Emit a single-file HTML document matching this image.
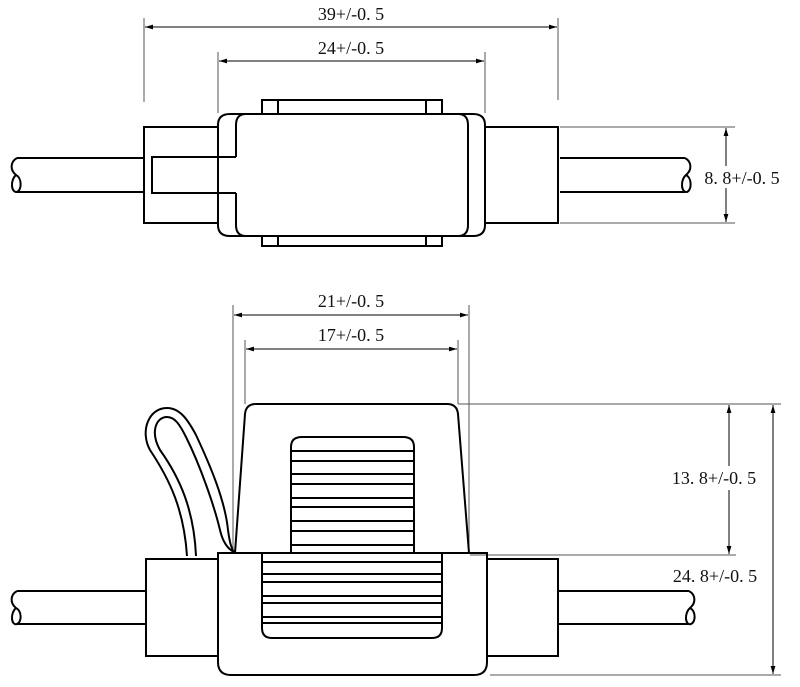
<!DOCTYPE html>
<html><head><style>body{margin:0;background:#fff}svg{display:block}text{font-family:"Liberation Serif","Noto Serif CJK SC",serif;font-size:18px;fill:#111}</style></head><body>
<svg width="800" height="687" viewBox="0 0 800 687" xmlns="http://www.w3.org/2000/svg">
<defs><marker id="a" viewBox="0 0 10 10" refX="10" refY="5" markerWidth="8" markerHeight="8" orient="auto-start-reverse"><path d="M0,2 L10,5 L0,8 z" fill="#000"/></marker></defs>
<g stroke="#555" stroke-width="1" fill="none">
<line x1="144" y1="18" x2="144" y2="102"/><line x1="558" y1="18" x2="558" y2="100"/>
<line x1="218" y1="52" x2="218" y2="113"/><line x1="485" y1="52" x2="485" y2="113"/>
<line x1="560" y1="127" x2="735" y2="127"/><line x1="560" y1="223" x2="735" y2="223"/>
<line x1="233" y1="305" x2="233" y2="550"/><line x1="469" y1="305" x2="469" y2="550"/>
<line x1="245" y1="340" x2="245" y2="404"/><line x1="458" y1="340" x2="458" y2="404"/>
<line x1="458" y1="404" x2="781" y2="404"/><line x1="470" y1="555" x2="736" y2="555"/><line x1="490" y1="675" x2="781" y2="675"/>
</g>
<g stroke="#000" stroke-width="1" fill="none" marker-start="url(#a)" marker-end="url(#a)">
<line x1="145" y1="27" x2="557" y2="27"/><line x1="219" y1="61" x2="484" y2="61"/>
<line x1="726" y1="128" x2="726" y2="222"/>
<line x1="234" y1="315" x2="468" y2="315"/><line x1="246" y1="349" x2="457" y2="349"/>
<line x1="729" y1="405" x2="729" y2="554"/><line x1="773" y1="405" x2="773" y2="674"/>
</g>
<g fill="#fff" stroke="none">
<rect x="690" y="166" width="104" height="22"/><rect x="655" y="466" width="115" height="24"/>
</g>
<text x="351" y="20" text-anchor="middle">39+/-0. 5</text>
<text x="351" y="54" text-anchor="middle">24+/-0. 5</text>
<text x="742" y="184" text-anchor="middle">8. 8+/-0. 5</text>
<text x="351" y="307" text-anchor="middle">21+/-0. 5</text>
<text x="351" y="341" text-anchor="middle">17+/-0. 5</text>
<text x="714" y="484" text-anchor="middle">13. 8+/-0. 5</text>
<text x="715" y="582" text-anchor="middle">24. 8+/-0. 5</text>
<g stroke="#000" stroke-width="2" fill="none">
<path d="M17,158 H144 M17,192 H144"/>
<path d="M17,158 C10,162 10,170 16,175 C10,180 11,193 17,192 C22,190 22,178 16,175"/>
<path d="M560,158 H685 M560,192 H685"/>
<path d="M685,158 C692,162 692,170 686,175 C680,180 681,193 687,192 C692,190 692,178 686,175"/>
<rect x="144" y="127" width="74" height="96"/>
<path d="M236,157 H152 V193 H236"/>
<path d="M262,114 V100 H442 V114 M278,100 V114 M426,100 V114"/>
<path d="M262,236 V246 H442 V236 M278,236 V246 M426,236 V246"/>
<path d="M218,157 V125 Q218,114 230,114 H473 Q485,114 485,125 V225 Q485,236 473,236 H230 Q218,236 218,225 V193"/>
<path d="M236,157 V125 Q236,114 246,114 M236,193 V225 Q236,236 246,236 M458,114 Q468,114 468,125 V225 Q468,236 458,236"/>
<rect x="485" y="127" width="73" height="96"/>
<path d="M17,591 H146 M17,624 H146"/>
<path d="M17,591 C10,595 10,603 16,608 C10,613 11,626 17,624 C22,622 22,611 16,608"/>
<path d="M558,591 H689 M558,624 H689"/>
<path d="M689,591 C696,595 696,603 690,608 C684,613 685,626 691,624 C696,622 696,611 690,608"/>
<rect x="146" y="559" width="72" height="97"/>
<rect x="487" y="559" width="71" height="97"/>
<path d="M235,553 L245,414 Q246,404 256,404 H447 Q457,404 458,414 L469,553"/>
<path d="M291,553 V447 Q291,437 302,437 H403 Q414,437 414,447 V553"/>
<path d="M291,451 H414 M291,461 H414 M291,474 H414 M291,484 H414 M291,498 H414 M291,507 H414 M291,521 H414 M291,531 H414 M291,545 H414"/>
<path d="M218,553 H487 V662 Q487,675 474,675 H231 Q218,675 218,662 Z"/>
<path d="M262,553 V628 Q262,638 272,638 H432 Q442,638 442,628 V553"/>
<path d="M262,562 H442 M262,574 H442 M262,582 H442 M262,596 H442 M262,603 H442 M262,617 H442 M262,623 H442"/>
<path d="M187,556 C184,510 170,480 150,450 C140,432 148,408 167,408 C180,408 188,420 196,435 C210,465 225,500 228,530 C230,545 232,550 235,553"/>
<path d="M196,556 C194,510 180,478 160,450 C150,432 156,417 167,417 C175,417 180,425 186,437 C200,465 214,505 220,530 C223,543 228,549 234,552"/>
</g>
</svg>
</body></html>
